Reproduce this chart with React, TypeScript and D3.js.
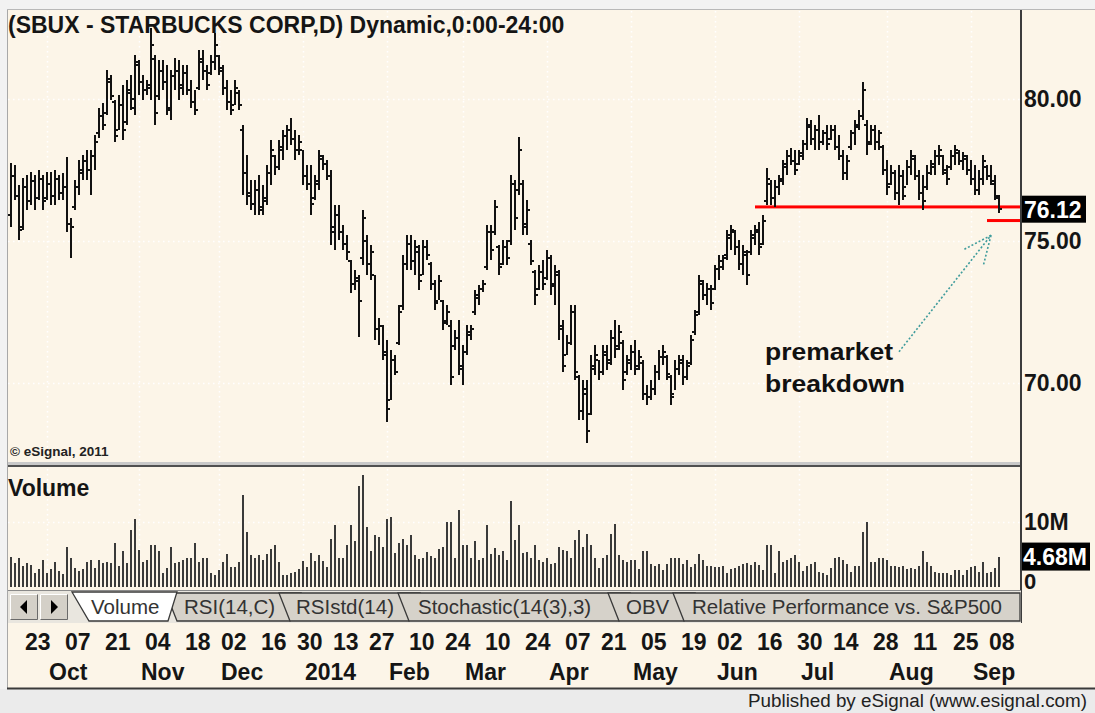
import React from 'react';
import * as d3 from 'd3';

// ---------------- DATA ----------------
const HOLIDAYS = ['2013-11-28', '2013-12-25', '2014-01-01', '2014-01-20', '2014-02-17', '2014-04-18', '2014-05-26', '2014-07-04', '2014-09-01'];

const HIGH = [
  77.75, 77.68, 76.98, 77.22, 77.33, 77.44, 77.33, 77.51, 77.33, 77.44,
  77.44, 77.51, 77.33, 77.40, 77.96, 75.82, 77.15, 77.86, 78.03, 78.21,
  78.21, 78.74, 79.69, 79.86, 81.03, 80.85, 79.97, 80.15, 80.50, 80.67,
  80.85, 81.55, 81.38, 80.85, 80.67, 82.50, 81.55, 81.38, 81.38, 81.20,
  81.03, 81.45, 81.38, 81.20, 81.20, 80.67, 80.32, 81.73, 81.73, 81.20,
  81.55, 82.33, 81.55, 81.20, 80.67, 80.32, 80.67, 80.32, 79.09, 78.03,
  77.15, 77.15, 77.33, 76.98, 77.68, 78.56, 78.03, 78.56, 78.91, 79.09,
  79.34, 78.91, 78.74, 78.21, 77.68, 77.68, 77.33, 78.21, 78.03, 77.86,
  77.51, 76.27, 76.27, 75.57, 75.22, 74.34, 73.99, 73.81, 76.10, 75.22,
  74.87, 73.81, 72.30, 72.05, 71.52, 71.17, 70.99, 72.75, 74.51, 75.22,
  75.22, 75.04, 74.87, 75.04, 75.04, 74.27, 73.63, 73.81, 72.93, 72.75,
  72.23, 71.87, 72.23, 71.35, 72.05, 72.05, 73.28, 73.46, 73.63, 75.57,
  75.57, 76.45, 74.87, 75.04, 75.04, 77.33, 77.15, 78.67, 77.15, 76.45,
  75.04, 73.99, 74.16, 74.34, 74.69, 74.51, 74.16, 73.99, 72.23, 71.70,
  72.75, 72.75, 70.29, 70.11, 70.11, 70.99, 71.35, 70.82, 71.35, 71.35,
  71.87, 72.23, 72.05, 71.52, 70.99, 71.35, 71.52, 71.17, 70.82, 69.94,
  70.11, 70.64, 71.17, 71.35, 70.99, 70.29, 70.82, 70.99, 70.99, 70.82,
  71.70, 72.58, 73.81, 73.63, 73.53, 73.46, 74.16, 74.51, 74.51, 75.39,
  75.57, 75.39, 75.04, 74.87, 74.69, 75.39, 75.57, 75.68, 75.92, 77.58,
  77.15, 77.15, 77.33, 77.86, 78.21, 78.28, 78.21, 78.21, 78.56, 79.34,
  79.27, 79.09, 79.44, 78.91, 79.09, 79.09, 79.09, 78.74, 78.21, 78.03,
  78.91, 79.27, 79.62, 80.60, 79.27, 79.09, 79.09, 78.91, 78.39, 77.86,
  77.68, 77.51, 77.68, 77.51, 77.86, 78.21, 78.03, 77.51, 77.33, 77.68,
  77.86, 78.21, 78.39, 78.03, 77.68, 78.21, 78.39, 78.21, 78.14, 78.03,
  77.86, 77.68, 77.51, 78.03, 77.68, 77.68, 77.33, 76.63,
];

const LOW = [
  75.50, 76.45, 75.04, 75.39, 76.10, 76.27, 76.10, 76.45, 76.10, 76.45,
  76.27, 76.27, 76.45, 76.45, 75.32, 74.41, 76.10, 76.63, 77.15, 77.15,
  76.63, 77.51, 78.63, 78.91, 79.44, 79.97, 78.49, 78.91, 78.56, 79.09,
  79.62, 79.44, 80.15, 79.97, 80.15, 79.97, 79.09, 79.97, 80.32, 79.44,
  79.27, 80.32, 79.97, 80.15, 80.15, 79.69, 79.44, 80.32, 80.67, 80.32,
  80.85, 81.03, 80.85, 80.15, 79.62, 79.44, 79.79, 79.62, 76.63, 76.27,
  76.10, 75.92, 75.92, 75.92, 76.27, 76.98, 77.33, 77.51, 77.86, 78.21,
  78.39, 77.86, 78.03, 76.98, 76.80, 75.92, 76.45, 76.80, 77.51, 77.15,
  74.87, 74.69, 75.04, 74.69, 74.34, 73.18, 73.28, 71.63, 74.16, 73.81,
  73.63, 71.52, 71.35, 70.82, 68.64, 69.41, 70.29, 71.35, 72.58, 73.99,
  73.99, 73.81, 73.28, 73.81, 74.34, 73.28, 72.58, 72.93, 71.87, 72.05,
  69.94, 71.17, 70.29, 69.94, 70.99, 71.52, 72.40, 72.75, 73.21, 73.99,
  74.34, 75.22, 73.81, 74.16, 74.16, 74.87, 75.39, 76.63, 75.22, 75.22,
  74.16, 72.75, 73.28, 73.28, 73.63, 73.11, 72.75, 71.52, 70.40, 70.99,
  71.35, 70.11, 68.71, 68.71, 67.90, 68.88, 70.29, 70.11, 70.29, 70.47,
  70.64, 70.89, 71.17, 69.76, 70.29, 70.47, 70.29, 70.47, 69.41, 69.23,
  69.41, 69.59, 70.11, 70.64, 70.11, 69.23, 69.76, 70.29, 69.94, 70.11,
  70.64, 71.70, 72.40, 72.93, 72.75, 72.58, 73.28, 73.63, 73.99, 74.34,
  74.69, 74.51, 73.99, 73.81, 73.46, 74.51, 74.87, 74.51, 74.87, 76.27,
  76.27, 76.20, 76.63, 76.98, 77.33, 77.68, 77.33, 77.68, 77.86, 78.21,
  78.39, 78.21, 78.21, 78.39, 78.21, 78.56, 78.21, 77.86, 77.15, 77.15,
  78.21, 78.39, 78.91, 79.27, 78.03, 78.39, 78.21, 78.21, 77.33, 76.63,
  76.98, 76.45, 76.27, 76.45, 76.98, 77.33, 77.15, 76.45, 76.10, 76.80,
  77.33, 77.33, 77.68, 77.33, 76.98, 77.51, 77.68, 77.68, 77.51, 77.33,
  76.98, 76.63, 76.63, 76.98, 77.15, 76.98, 76.45, 75.99,
];

const OPEN = [
  75.9, 77.3, 76.6, 75.5, 76.9, 76.4, 77.1, 76.5, 77.2, 76.5,
  77.0, 76.6, 77.2, 76.7, 76.9, 75.6, 76.2, 76.9, 77.4, 77.8,
  77.5, 78.0, 78.8, 79.4, 79.5, 80.6, 79.9, 78.9, 79.8, 79.2,
  80.2, 79.7, 81.2, 80.6, 80.3, 80.4, 81.4, 80.1, 81.0, 80.6,
  79.6, 80.8, 81.0, 80.5, 80.9, 80.3, 79.9, 80.4, 81.3, 81.0,
  80.9, 81.3, 81.5, 81.0, 80.4, 79.9, 79.8, 80.2, 78.9, 77.4,
  76.7, 76.3, 76.8, 76.2, 76.4, 77.4, 78.0, 77.6, 78.2, 78.7,
  78.9, 78.6, 78.2, 78.2, 77.3, 77.0, 76.5, 77.0, 77.9, 77.7,
  77.3, 75.5, 75.9, 75.3, 74.9, 74.3, 73.5, 73.6, 74.4, 75.0,
  74.2, 73.8, 71.9, 72.0, 71.0, 69.4, 70.8, 71.4, 72.7, 74.2,
  74.9, 74.3, 74.6, 73.8, 74.8, 74.2, 73.5, 72.9, 72.9, 72.2,
  72.0, 71.3, 71.6, 70.5, 71.1, 71.7, 72.5, 73.0, 73.3, 74.1,
  75.3, 75.3, 74.8, 74.2, 74.8, 75.0, 77.0, 76.8, 77.0, 75.6,
  74.9, 73.9, 73.3, 73.9, 73.7, 74.4, 73.5, 73.8, 72.0, 71.0,
  71.4, 72.5, 70.2, 69.0, 69.6, 68.9, 70.5, 70.8, 70.4, 71.0,
  70.8, 71.6, 71.3, 71.4, 70.4, 70.7, 71.1, 70.6, 70.7, 69.6,
  69.5, 69.8, 70.4, 70.9, 70.9, 70.2, 69.6, 70.5, 70.7, 70.2,
  70.7, 71.8, 72.5, 73.5, 73.1, 73.3, 73.3, 74.0, 74.1, 74.5,
  75.1, 75.3, 74.8, 74.2, 74.5, 74.6, 75.1, 75.3, 74.9, 76.4,
  77.0, 76.5, 76.9, 77.1, 77.6, 78.0, 77.8, 77.7, 78.0, 78.4,
  79.0, 78.6, 78.9, 78.5, 78.8, 78.6, 78.9, 78.3, 78.0, 77.4,
  78.3, 78.8, 79.0, 79.4, 79.1, 78.5, 78.9, 78.5, 78.3, 77.5,
  77.0, 77.4, 76.7, 77.3, 76.9, 77.6, 77.9, 77.3, 76.7, 76.9,
  77.4, 77.6, 78.0, 78.0, 77.4, 77.6, 78.0, 78.1, 77.8, 77.9,
  77.5, 77.2, 76.8, 77.2, 77.6, 77.3, 77.0, 76.5,
];

const CLOSE = [
  77.3, 76.6, 75.4, 76.9, 76.4, 77.1, 76.5, 77.2, 76.4, 77.0,
  76.6, 77.2, 76.7, 76.9, 75.6, 75.5, 76.9, 77.5, 77.8, 77.5,
  78.0, 78.5, 79.4, 79.1, 80.7, 80.1, 78.7, 79.8, 78.9, 80.3,
  80.0, 81.3, 80.6, 80.3, 80.5, 81.9, 79.5, 81.0, 80.6, 79.7,
  80.8, 81.0, 80.4, 80.9, 80.3, 79.9, 79.6, 81.4, 81.0, 80.5,
  81.3, 81.9, 81.1, 80.4, 79.9, 79.6, 80.4, 79.8, 77.4, 76.6,
  76.3, 76.8, 76.1, 76.5, 77.4, 78.2, 77.6, 78.3, 78.7, 78.9,
  78.6, 78.2, 78.5, 77.3, 77.0, 76.3, 77.1, 78.0, 77.7, 77.3,
  75.3, 75.9, 75.3, 74.9, 74.6, 73.5, 73.7, 72.9, 75.8, 74.2,
  74.6, 71.9, 72.0, 71.1, 69.1, 70.8, 70.4, 72.5, 74.2, 74.9,
  74.3, 74.8, 73.6, 74.8, 74.5, 73.5, 72.8, 73.6, 72.1, 72.5,
  70.2, 71.6, 70.6, 71.1, 71.8, 71.9, 73.1, 73.3, 73.5, 75.3,
  74.7, 76.2, 74.1, 74.8, 74.4, 77.0, 75.8, 78.2, 75.5, 76.1,
  74.3, 73.1, 73.9, 73.5, 74.4, 73.4, 73.9, 71.9, 70.6, 71.4,
  72.5, 70.4, 69.0, 69.8, 68.3, 70.6, 71.0, 70.4, 71.1, 70.7,
  71.6, 71.2, 71.8, 70.1, 70.8, 71.1, 70.5, 70.9, 69.6, 69.5,
  69.8, 70.4, 70.9, 71.1, 70.3, 69.5, 70.5, 70.8, 70.2, 70.6,
  71.5, 72.4, 73.6, 73.1, 73.3, 72.8, 74.0, 74.3, 74.4, 75.2,
  75.4, 74.8, 74.2, 74.6, 73.8, 75.2, 75.4, 74.8, 75.7, 77.2,
  76.5, 76.9, 77.2, 77.7, 78.0, 77.8, 77.5, 78.1, 78.4, 79.1,
  78.6, 78.9, 78.5, 78.8, 78.4, 78.9, 78.3, 78.0, 77.4, 77.8,
  78.8, 79.1, 79.4, 80.3, 78.4, 78.9, 78.5, 78.8, 77.5, 76.9,
  77.4, 76.7, 77.3, 76.6, 77.6, 78.0, 77.3, 76.7, 76.4, 77.4,
  77.7, 78.0, 78.2, 77.5, 77.2, 78.0, 78.2, 77.8, 78.0, 77.5,
  77.2, 76.8, 77.2, 77.8, 77.3, 77.1, 76.6, 76.12,
];

// volume, millions of shares
const VOLUME = [
  4.6, 3.7, 4.5, 3.2, 3.7, 3.4, 2.2, 2.7, 4.2, 2.2,
  2.7, 3.9, 2.4, 2.0, 6.1, 4.5, 3.0, 2.5, 2.7, 3.8,
  4.2, 3.0, 4.2, 3.7, 3.9, 3.7, 6.8, 3.2, 5.5, 3.7,
  8.8, 10.4, 5.7, 3.8, 4.1, 6.5, 6.4, 5.5, 2.2, 3.0,
  6.1, 3.7, 3.9, 4.2, 4.5, 4.5, 6.8, 3.9, 4.5, 4.5,
  2.1, 1.8, 2.6, 3.9, 5.1, 3.1, 3.1, 3.8, 14.2, 8.4,
  5.0, 4.5, 4.9, 4.2, 5.1, 5.8, 6.4, 3.8, 1.8, 1.9,
  2.1, 2.3, 2.7, 4.0, 3.1, 5.2, 4.0, 4.9, 4.0, 3.1,
  7.4, 9.5, 4.4, 4.4, 6.4, 9.5, 7.1, 15.6, 17.2, 9.2,
  5.5, 8.0, 7.7, 6.2, 10.5, 10.8, 5.3, 6.7, 7.4, 6.4,
  8.0, 4.9, 4.3, 4.5, 5.4, 4.8, 4.5, 5.8, 6.1, 10.0,
  10.0, 4.5, 11.9, 6.5, 6.4, 4.5, 7.1, 4.2, 4.4, 9.6,
  5.1, 6.0, 4.9, 5.5, 4.1, 13.2, 7.2, 9.6, 5.3, 5.4,
  4.5, 6.4, 4.2, 3.9, 4.5, 3.5, 3.7, 6.1, 5.7, 5.5,
  4.5, 7.2, 8.8, 6.2, 8.2, 6.5, 4.5, 2.9, 4.5, 5.0,
  8.2, 9.7, 4.9, 4.2, 3.8, 4.1, 4.2, 2.8, 5.6, 5.6,
  3.5, 3.3, 3.5, 2.6, 3.5, 4.5, 4.5, 4.5, 3.5, 4.2,
  3.1, 3.5, 5.1, 4.1, 3.3, 3.2, 3.1, 3.1, 3.2, 2.2,
  2.8, 2.9, 3.3, 3.5, 3.7, 3.4, 3.9, 3.4, 2.6, 6.5,
  6.5, 2.2, 5.5, 3.8, 4.2, 4.5, 4.9, 3.9, 2.4, 3.3,
  3.5, 3.8, 2.3, 2.1, 1.9, 2.9, 4.5, 4.6, 4.2, 3.5,
  2.3, 3.3, 3.3, 8.4, 10.0, 3.8, 3.9, 4.5, 4.4, 4.1,
  3.3, 3.3, 3.1, 3.3, 2.7, 3.0, 2.7, 3.3, 5.5, 3.9,
  3.3, 2.3, 2.2, 2.2, 2.2, 1.8, 2.6, 2.6, 1.9, 2.6,
  3.1, 3.3, 2.3, 3.8, 2.1, 2.3, 2.9, 4.68,
];

const PRICE_TICKS = [70, 75, 80];
const VOL_TICKS = [0, 10];
const VOL_TICK_LABELS = ['0', '10M'];
const DAY_TICKS = [
  '2013-09-23', '2013-10-07', '2013-10-21', '2013-11-04', '2013-11-18', '2013-12-02', '2013-12-16',
  '2013-12-30', '2014-01-13', '2014-01-27', '2014-02-10', '2014-02-24', '2014-03-10', '2014-03-24',
  '2014-04-07', '2014-04-21', '2014-05-05', '2014-05-19', '2014-06-02', '2014-06-16', '2014-06-30',
  '2014-07-14', '2014-07-28', '2014-08-11', '2014-08-25', '2014-09-08',
];
const MONTH_TICKS = [
  '2013-10-01', '2013-11-01', '2013-12-02', '2014-01-02', '2014-02-03', '2014-03-03',
  '2014-04-01', '2014-05-01', '2014-06-02', '2014-07-01', '2014-08-01', '2014-09-02',
];
const MONTH_LABELS = ['Oct', 'Nov', 'Dec', '2014', 'Feb', 'Mar', 'Apr', 'May', 'Jun', 'Jul', 'Aug', 'Sep'];

const LAST_PRICE = 76.12;
const LAST_VOLUME = 4.68;
const SUPPORT = { level: 76.2, from: '2014-06-16' };
const BREAK = { level: 75.72, from: '2014-09-08' };
const ARROW = { from: ['2014-08-06', 71.1], to: ['2014-09-09', 75.2] } as const;

const TABS = ['Volume', 'RSI(14,C)', 'RSIstd(14)', 'Stochastic(14(3),3)', 'OBV', 'Relative Performance vs. S&P500'];

// ---------------- HELPERS ----------------
function tradingDays(): string[] {
  const out: string[] = [];
  const d = new Date(Date.UTC(2013, 8, 18));
  const end = Date.UTC(2014, 8, 11);
  while (d.getTime() <= end) {
    const wd = d.getUTCDay();
    const s = d.toISOString().slice(0, 10);
    if (wd !== 0 && wd !== 6 && !HOLIDAYS.includes(s)) out.push(s);
    d.setUTCDate(d.getUTCDate() + 1);
  }
  return out;
}

const FONT = 'Liberation Sans, Arial, sans-serif';
const CREAM = '#fcf5e8';

export default function App() {
  const dates = tradingDays();
  const x = d3.scalePoint<string>().domain(dates).range([11, 999]);
  const yP = d3.scaleLinear().domain([70, 80]).range([383, 99]);
  const yV = d3.scaleLinear().domain([0, 10]).range([587, 522]);

  const X = (d: string) => Math.round(x(d) as number);

  // tab geometry (layout)
  const TAB_LEFT = [72, 166, 279, 398, 608, 673];
  const TAB_TEXT = [91, 184, 296, 418, 626, 692];
  const tabTop = 593, tabBot = 621;

  const inactiveTabs = TABS.map((t, i) => ({ t, i })).filter((o) => o.i > 0);

  return (
    <svg width={1095} height={713} style={{ position: 'absolute', left: 0, top: 0, display: 'block' }} fontFamily={FONT}>
      {/* background & frame */}
      <rect x={0} y={0} width={1095} height={713} fill="#f2f2f2" />
      <rect x={8} y={10} width={1087} height={678} fill={CREAM} />
      <line x1={7.5} y1={9} x2={7.5} y2={690} stroke="#a8a8a8" />
      <line x1={7} y1={9.5} x2={1095} y2={9.5} stroke="#b8b8b8" />

      {/* grid - price */}
      {PRICE_TICKS.map((p) => (
        <line key={'hp' + p} x1={8} x2={1020} y1={yP(p) + 0.5} y2={yP(p) + 0.5} stroke="#ffffff" strokeWidth={1.5} strokeDasharray="1.5 3.5" />
      ))}
      {MONTH_TICKS.map((d) => (
        <g key={'vg' + d}>
          <line x1={X(d) + 0.5} x2={X(d) + 0.5} y1={11} y2={461} stroke="#ffffff" strokeWidth={1.5} strokeDasharray="1.5 3.5" />
          <line x1={X(d) + 0.5} x2={X(d) + 0.5} y1={469} y2={588} stroke="#ffffff" strokeWidth={1.5} strokeDasharray="1.5 3.5" />
        </g>
      ))}
      <line x1={8} x2={1020} y1={yV(10) + 0.5} y2={yV(10) + 0.5} stroke="#ffffff" strokeWidth={1.5} strokeDasharray="1.5 3.5" />

      {/* title */}
      <text x={8} y={33} fontSize={23} fontWeight="bold" fill="#151515">(SBUX - STARBUCKS CORP,D) Dynamic,0:00-24:00</text>
      <text x={10} y={456} fontSize={13.5} fontWeight="bold" fill="#222">© eSignal, 2011</text>

      {/* support lines */}
      <rect x={X(SUPPORT.from)} y={yP(SUPPORT.level) - 1.5} width={1021 - X(SUPPORT.from)} height={3} fill="#ff0000" />
      <rect x={X(BREAK.from)} y={yP(BREAK.level) - 1.5} width={1021 - X(BREAK.from)} height={3} fill="#ff0000" />

      {/* OHLC bars */}
      <g fill="#111">
        {dates.map((d, i) => {
          const cx = X(d);
          const hy = Math.round(yP(HIGH[i]));
          const ly = Math.round(yP(LOW[i]));
          const oy = Math.round(yP(OPEN[i]));
          const cy = Math.round(yP(CLOSE[i]));
          return (
            <g key={d}>
              <rect x={cx - 1} y={hy} width={2} height={Math.max(2, ly - hy)} />
              <rect x={cx - 3} y={oy - 1} width={2} height={2} />
              <rect x={cx + 1} y={cy - 1} width={2} height={2} />
            </g>
          );
        })}
      </g>

      {/* annotation */}
      {(() => {
        const x1 = X(ARROW.from[0]), y1 = yP(ARROW.from[1]);
        const x2 = X(ARROW.to[0]), y2 = yP(ARROW.to[1]);
        const ang = Math.atan2(y2 - y1, x2 - x1);
        const len = 30;
        const w1 = [x2 - len * Math.cos(ang - 0.42), y2 - len * Math.sin(ang - 0.42)];
        const w2 = [x2 - len * Math.cos(ang + 0.42), y2 - len * Math.sin(ang + 0.42)];
        return (
          <g stroke="#3f9c9c" strokeWidth={1.6} strokeDasharray="2 2" fill="none">
            <line x1={x1} y1={y1} x2={x2} y2={y2} />
            <line x1={x2} y1={y2} x2={w1[0]} y2={w1[1]} />
            <line x1={x2} y1={y2} x2={w2[0]} y2={w2[1]} />
          </g>
        );
      })()}
      <text x={X('2014-06-18') + 2} y={yP(70.81)} fontSize={24} fontWeight="bold" fill="#111" textLength={128} lengthAdjust="spacingAndGlyphs">premarket</text>
      <text x={X('2014-06-18') + 2} y={yP(69.68)} fontSize={24} fontWeight="bold" fill="#111" textLength={140} lengthAdjust="spacingAndGlyphs">breakdown</text>

      {/* price axis labels */}
      {PRICE_TICKS.map((p) => (
        <text key={'pl' + p} x={1024} y={yP(p) + 8} fontSize={23} fontWeight="bold" fill="#151515">{p.toFixed(2)}</text>
      ))}
      <rect x={1022} y={yP(LAST_PRICE) - 13.5} width={64} height={27} fill="#000" />
      <text x={1024} y={yP(LAST_PRICE) + 8.5} fontSize={23} fontWeight="bold" fill="#fff">{LAST_PRICE.toFixed(2)}</text>

      {/* separator between panes */}
      <rect x={8} y={462} width={1013} height={3} fill="#c9c9c9" />
      <line x1={8} x2={1021} y1={466} y2={466} stroke="#505050" strokeWidth={2} />

      {/* volume */}
      <text x={8} y={496} fontSize={23} fontWeight="bold" fill="#151515">Volume</text>
      <g fill="#3a3a3a">
        {dates.map((d, i) => {
          const cx = X(d);
          const top = Math.round(yV(VOLUME[i]));
          return <rect key={'v' + d} x={cx - 1} y={top} width={2} height={587 - top} />;
        })}
      </g>
      {VOL_TICKS.map((v, i) => (
        <text key={'vl' + v} x={1024} y={Math.min(yV(v) + 8, 589)} fontSize={v === 0 ? 22 : 23} fontWeight="bold" fill="#151515">{VOL_TICK_LABELS[i]}</text>
      ))}
      <rect x={1022} y={yV(LAST_VOLUME) - 14} width={68} height={28} fill="#000" />
      <text x={1023} y={yV(LAST_VOLUME) + 8.5} fontSize={23} fontWeight="bold" fill="#fff">{LAST_VOLUME.toFixed(2)}M</text>

      {/* right axis line */}
      <line x1={1021} x2={1021} y1={10} y2={623} stroke="#3c3c3c" strokeWidth={2} />

      {/* tab row */}
      <rect x={8} y={590} width={1013} height={33} fill="#e9e6df" />
      <line x1={8} x2={1021} y1={590.5} y2={590.5} stroke="#8a8a8a" />
      {/* scroll buttons */}
      {[10, 40].map((bx, k) => (
        <g key={'btn' + k}>
          <rect x={bx} y={594} width={28} height={26} fill="#d4d0c8" />
          <path d={`M${bx + 0.5},${619.5} V${594.5} H${bx + 27.5}`} stroke="#ffffff" fill="none" />
          <path d={`M${bx + 0.5},${619.5} H${bx + 27.5} V${594.5}`} stroke="#6a6a6a" fill="none" />
          {k === 0 ? (
            <path d={`M${bx + 10},607 L${bx + 17},600 L${bx + 17},614 Z`} fill="#000" />
          ) : (
            <path d={`M${bx + 18},607 L${bx + 11},600 L${bx + 11},614 Z`} fill="#000" />
          )}
        </g>
      ))}
      {inactiveTabs.map(({ t, i }) => {
        const L = TAB_LEFT[i];
        const R = i < TABS.length - 1 ? TAB_LEFT[i + 1] + 22 : 1020;
        const pts = i < TABS.length - 1
          ? `${L},${tabTop} ${L + 11},${tabBot} ${R - 11},${tabBot} ${R},${tabTop}`
          : `${L},${tabTop} ${L + 11},${tabBot} ${R},${tabBot} ${R},${tabTop}`;
        return (
          <g key={'tab' + i}>
            <polygon points={pts} fill="#d6d2ca" stroke="#3a3a3a" strokeWidth={1.3} />
            <text x={TAB_TEXT[i]} y={614} fontSize={20.5} fill="#333">{t}</text>
          </g>
        );
      })}
      <polygon points={`${TAB_LEFT[0]},${tabTop - 1} ${TAB_LEFT[0] + 17},${tabBot} ${TAB_LEFT[1] + 2},${tabBot} ${TAB_LEFT[1] + 11},${tabTop - 1}`} fill="#ffffff" stroke="#3a3a3a" strokeWidth={1.3} />
      <text x={TAB_TEXT[0]} y={614} fontSize={20.5} fill="#333">{TABS[0]}</text>

      {/* date axis */}
      {DAY_TICKS.map((d) => (
        <text key={'dt' + d} x={X(d) + 2} y={650} fontSize={23} fontWeight="bold" fill="#151515">{d.slice(8, 10)}</text>
      ))}
      {MONTH_TICKS.map((d, i) => (
        <text key={'mt' + d} x={X(d) + 2} y={680} fontSize={23} fontWeight="bold" fill="#151515">{MONTH_LABELS[i]}</text>
      ))}

      {/* bottom band */}
      <rect x={0} y={689} width={1095} height={24} fill="#ebebeb" />
      <line x1={7} x2={1095} y1={688.5} y2={688.5} stroke="#3a3a3a" strokeWidth={2} />
      <text x={748} y={707} fontSize={18} fill="#222" textLength={339} lengthAdjust="spacingAndGlyphs">Published by eSignal (www.esignal.com)</text>
    </svg>
  );
}
